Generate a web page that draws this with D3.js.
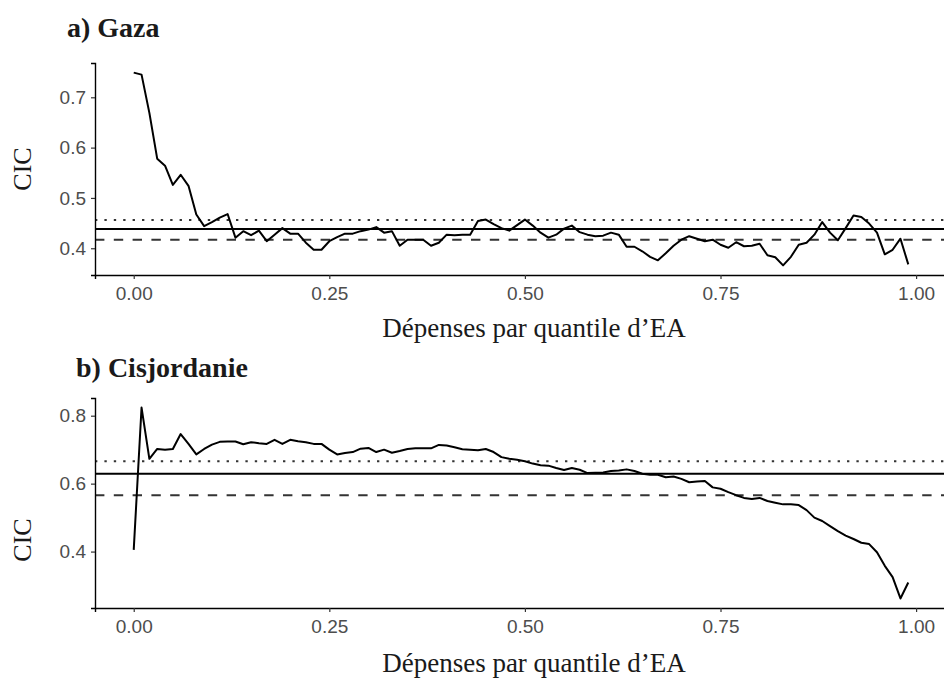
<!DOCTYPE html>
<html lang="fr">
<head>
<meta charset="UTF-8">
<title>CIC par quantile</title>
<script src="https://cdn.jsdelivr.net/npm/d3@7"></script>
<style>
  body { margin: 0; background: #fff; }
  svg text { font-family: "Liberation Sans", Arial, sans-serif; }
</style>
</head>
<body>
<svg id="chart"></svg>
<script>
// quantiles 0.00 .. 0.99
var quantiles = d3.range(100).map(i => i / 100);

var gaza = [
  0.749, 0.745, 0.669, 0.578, 0.564, 0.526, 0.546, 0.524, 0.467, 0.444,
  0.452, 0.461, 0.468, 0.421, 0.434, 0.426, 0.435, 0.414, 0.427, 0.440,
  0.429, 0.429, 0.411, 0.397, 0.397, 0.414, 0.422, 0.429, 0.429, 0.434,
  0.437, 0.442, 0.431, 0.434, 0.405, 0.417, 0.417, 0.417, 0.405, 0.411,
  0.427, 0.426, 0.427, 0.427, 0.454, 0.457, 0.448, 0.440, 0.435, 0.446,
  0.457, 0.445, 0.431, 0.421, 0.427, 0.439, 0.445, 0.432, 0.427, 0.424,
  0.425, 0.431, 0.427, 0.403, 0.403, 0.394, 0.383, 0.376, 0.390, 0.405,
  0.417, 0.424, 0.419, 0.414, 0.417, 0.407, 0.401, 0.412, 0.404, 0.405,
  0.409, 0.386, 0.382, 0.366, 0.383, 0.407, 0.411, 0.427, 0.452, 0.431,
  0.416, 0.440, 0.465, 0.462, 0.449, 0.431, 0.388, 0.397, 0.419, 0.368
];

var cisjordanie = [
  0.405, 0.824, 0.673, 0.702, 0.700, 0.702, 0.746, 0.717, 0.686, 0.702,
  0.715, 0.723, 0.724, 0.724, 0.716, 0.722, 0.719, 0.717, 0.729, 0.717,
  0.729, 0.725, 0.722, 0.717, 0.717, 0.700, 0.686, 0.690, 0.693, 0.703,
  0.705, 0.693, 0.700, 0.691, 0.696, 0.702, 0.704, 0.704, 0.704, 0.714,
  0.712, 0.707, 0.701, 0.700, 0.698, 0.702, 0.693, 0.678, 0.673, 0.670,
  0.666, 0.659, 0.654, 0.653, 0.646, 0.640, 0.646, 0.641, 0.631, 0.632,
  0.633, 0.637, 0.639, 0.642, 0.637, 0.629, 0.626, 0.626, 0.619, 0.621,
  0.614, 0.604, 0.606, 0.608, 0.589, 0.585, 0.575, 0.566, 0.558, 0.555,
  0.558, 0.549, 0.544, 0.539, 0.539, 0.537, 0.522, 0.500, 0.490, 0.475,
  0.460, 0.447, 0.437, 0.426, 0.422, 0.398, 0.358, 0.325, 0.262, 0.309
];

// reference lines: [dotted, solid, dashed]
var gazaRefs = [0.456, 0.4385, 0.417];
var cisRefs = [0.666, 0.629, 0.566];

var xTicks = [0, 0.25, 0.5, 0.75, 1];
var gazaYTicks = [0.4, 0.5, 0.6, 0.7];
var cisYTicks = [0.4, 0.6, 0.8];

var refStyles = [
  { dash: "2.35,7.05", color: "#333" },
  { dash: null, color: "#000" },
  { dash: "9.4,9.4", color: "#333" }
];

var W = 944, H = 680;
var svg = d3.select("#chart").attr("width", W).attr("height", H);

function expand(ext, f) {
  var pad = (ext[1] - ext[0]) * f;
  return [ext[0] - pad, ext[1] + pad];
}

function panel(opt) {
  var x = d3.scaleLinear()
    .domain(expand(d3.extent(quantiles), 0.05))
    .range([95, 947]);
  var y = d3.scaleLinear()
    .domain(expand(d3.extent(opt.values), 0.05))
    .range([opt.bottom, opt.top]);

  var g = svg.append("g");

  // horizontal reference lines
  g.selectAll("line.ref")
    .data(opt.refs)
    .join("line")
    .attr("class", "ref")
    .attr("x1", x.range()[0])
    .attr("x2", x.range()[1])
    .attr("y1", d => y(d))
    .attr("y2", d => y(d))
    .attr("stroke", (d, i) => refStyles[i].color)
    .attr("stroke-width", 2)
    .attr("stroke-dasharray", (d, i) => refStyles[i].dash);

  var line = d3.line()
    .x((d, i) => x(quantiles[i]))
    .y(d => y(d));

  g.append("path")
    .datum(opt.values)
    .attr("d", line)
    .attr("fill", "none")
    .attr("stroke", "#000")
    .attr("stroke-width", 2)
    .attr("stroke-linejoin", "round");

  var xAxis = g.append("g")
    .attr("transform", "translate(0," + opt.bottom + ")")
    .call(d3.axisBottom(x).tickValues(xTicks).tickFormat(d3.format(".2f"))
      .tickSizeOuter(0).tickSize(4).tickPadding(8));

  var yAxis = g.append("g")
    .attr("transform", "translate(95,0)")
    .call(d3.axisLeft(y).tickValues(opt.yTicks).tickFormat(d3.format(".1f"))
      .tickSizeOuter(0).tickSize(4).tickPadding(5));

  [xAxis, yAxis].forEach(a => {
    a.select(".domain").attr("stroke", "#000").attr("stroke-width", 1.4);
    a.selectAll(".tick line").attr("stroke", "#333").attr("stroke-width", 1.2);
    a.selectAll(".tick text").attr("fill", "#4d4d4d").style("font-size", "19px");
  });

  svg.append("text")
    .attr("x", opt.titleX).attr("y", opt.titleY)
    .style("font-family", "'Liberation Serif', 'Times New Roman', serif")
    .style("font-weight", "bold")
    .style("font-size", "28px")
    .attr("fill", "#1a1a1a")
    .text(opt.title);

  svg.append("text")
    .attr("x", 534).attr("y", opt.xLabY)
    .attr("text-anchor", "middle")
    .style("font-family", "'Liberation Serif', 'Times New Roman', serif")
    .style("font-size", "27px")
    .attr("fill", "#1a1a1a")
    .text("Dépenses par quantile d’EA");

  svg.append("text")
    .attr("transform", "translate(31," + opt.yLabC + ") rotate(-90)")
    .attr("text-anchor", "middle")
    .style("font-family", "'Liberation Serif', 'Times New Roman', serif")
    .style("font-size", "26px")
    .attr("fill", "#1a1a1a")
    .text("CIC");
}

panel({ values: gaza, refs: gazaRefs, yTicks: gazaYTicks, top: 63, bottom: 275,
  title: "a) Gaza", titleX: 67, titleY: 37, xLabY: 337, yLabC: 169 });

panel({ values: cisjordanie, refs: cisRefs, yTicks: cisYTicks, top: 398, bottom: 608,
  title: "b) Cisjordanie", titleX: 76, titleY: 377, xLabY: 672, yLabC: 540 });
</script>
</body>
</html>
